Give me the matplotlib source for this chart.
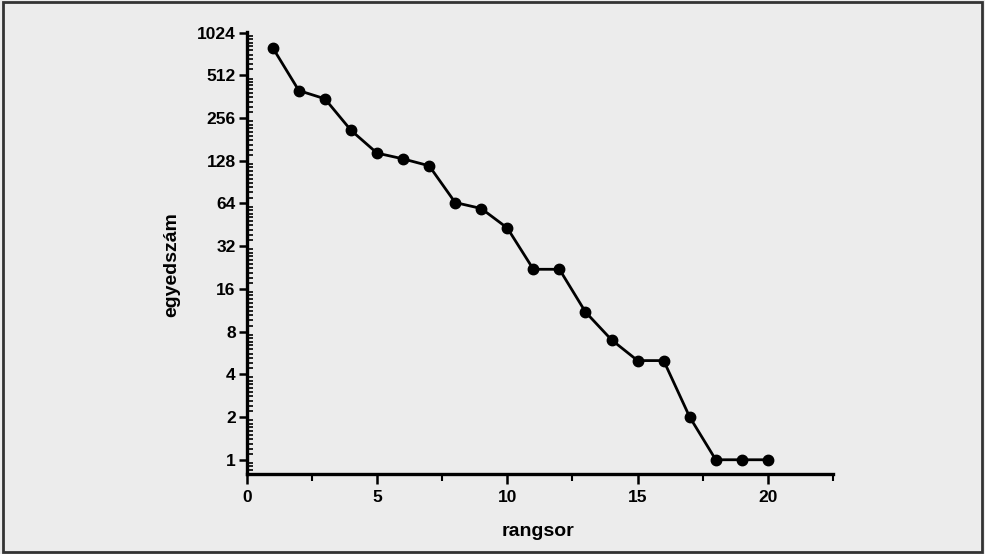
import numpy as np
import matplotlib
matplotlib.use("Agg")
import matplotlib.pyplot as plt
from matplotlib.ticker import LogLocator, FixedLocator, NullFormatter, MultipleLocator
from matplotlib.patches import Rectangle

rank = [1, 2, 3, 4, 5, 6, 7, 8, 9, 10, 11, 12, 13, 14, 15, 16, 17, 18, 19, 20]
count = [800, 400, 350, 210, 145, 132, 118, 65, 59, 43, 22, 22, 11, 7, 5, 5, 2, 1, 1, 1]
yticks = [1, 2, 4, 8, 16, 32, 64, 128, 256, 512, 1024]
xticks = [0, 5, 10, 15, 20]

plt.rcParams['font.family'] = ['Liberation Sans', 'DejaVu Sans']
plt.rcParams['font.weight'] = 'bold'

fig = plt.figure(figsize=(9.85, 5.54), dpi=100)
fig.patch.set_facecolor('#ececec')
fig.add_artist(Rectangle((0.003, 0.004), 0.994, 0.992, transform=fig.transFigure,
                         fill=False, edgecolor='#333333', linewidth=2))

ax = fig.add_axes([0.2505, 0.1439, 0.5952, 0.7989])
ax.set_facecolor('none')
ax.plot(rank, count, color='black', linewidth=2.0, marker='o', markersize=7.5,
        markerfacecolor='black', markeredgecolor='black')
ax.set_yscale('log', base=2)
ax.set_ylim(0.79, 1040)
ax.set_xlim(0, 22.5)

ax.yaxis.set_major_locator(FixedLocator(yticks))
ax.set_yticklabels([str(t) for t in yticks])
ax.yaxis.set_minor_locator(LogLocator(base=2, subs=np.arange(1.1, 2.0, 0.1), numticks=100))
ax.yaxis.set_minor_formatter(NullFormatter())
ax.xaxis.set_major_locator(FixedLocator(xticks))
ax.xaxis.set_minor_locator(MultipleLocator(2.5))

for s in ['top', 'right']:
    ax.spines[s].set_visible(False)
for s in ['left', 'bottom']:
    ax.spines[s].set_linewidth(2.4)

ax.tick_params(axis='y', which='major', direction='out', length=6, width=1.8, labelsize=12.5, pad=2)
ax.tick_params(axis='y', which='minor', direction='in', length=4.5, width=1.2)
ax.tick_params(axis='x', which='major', direction='out', length=7, width=1.8, labelsize=12.5, pad=4)
ax.tick_params(axis='x', which='minor', direction='out', length=5, width=1.5)

ax.set_xlabel('rangsor', fontsize=14, fontweight='bold')
ax.set_ylabel('egyedszám', fontsize=14, fontweight='bold')
ax.xaxis.set_label_coords(0.497, -0.11)
ax.yaxis.set_label_coords(-0.114, 0.473)

fig.savefig('out.png', dpi=100, facecolor=fig.get_facecolor())
